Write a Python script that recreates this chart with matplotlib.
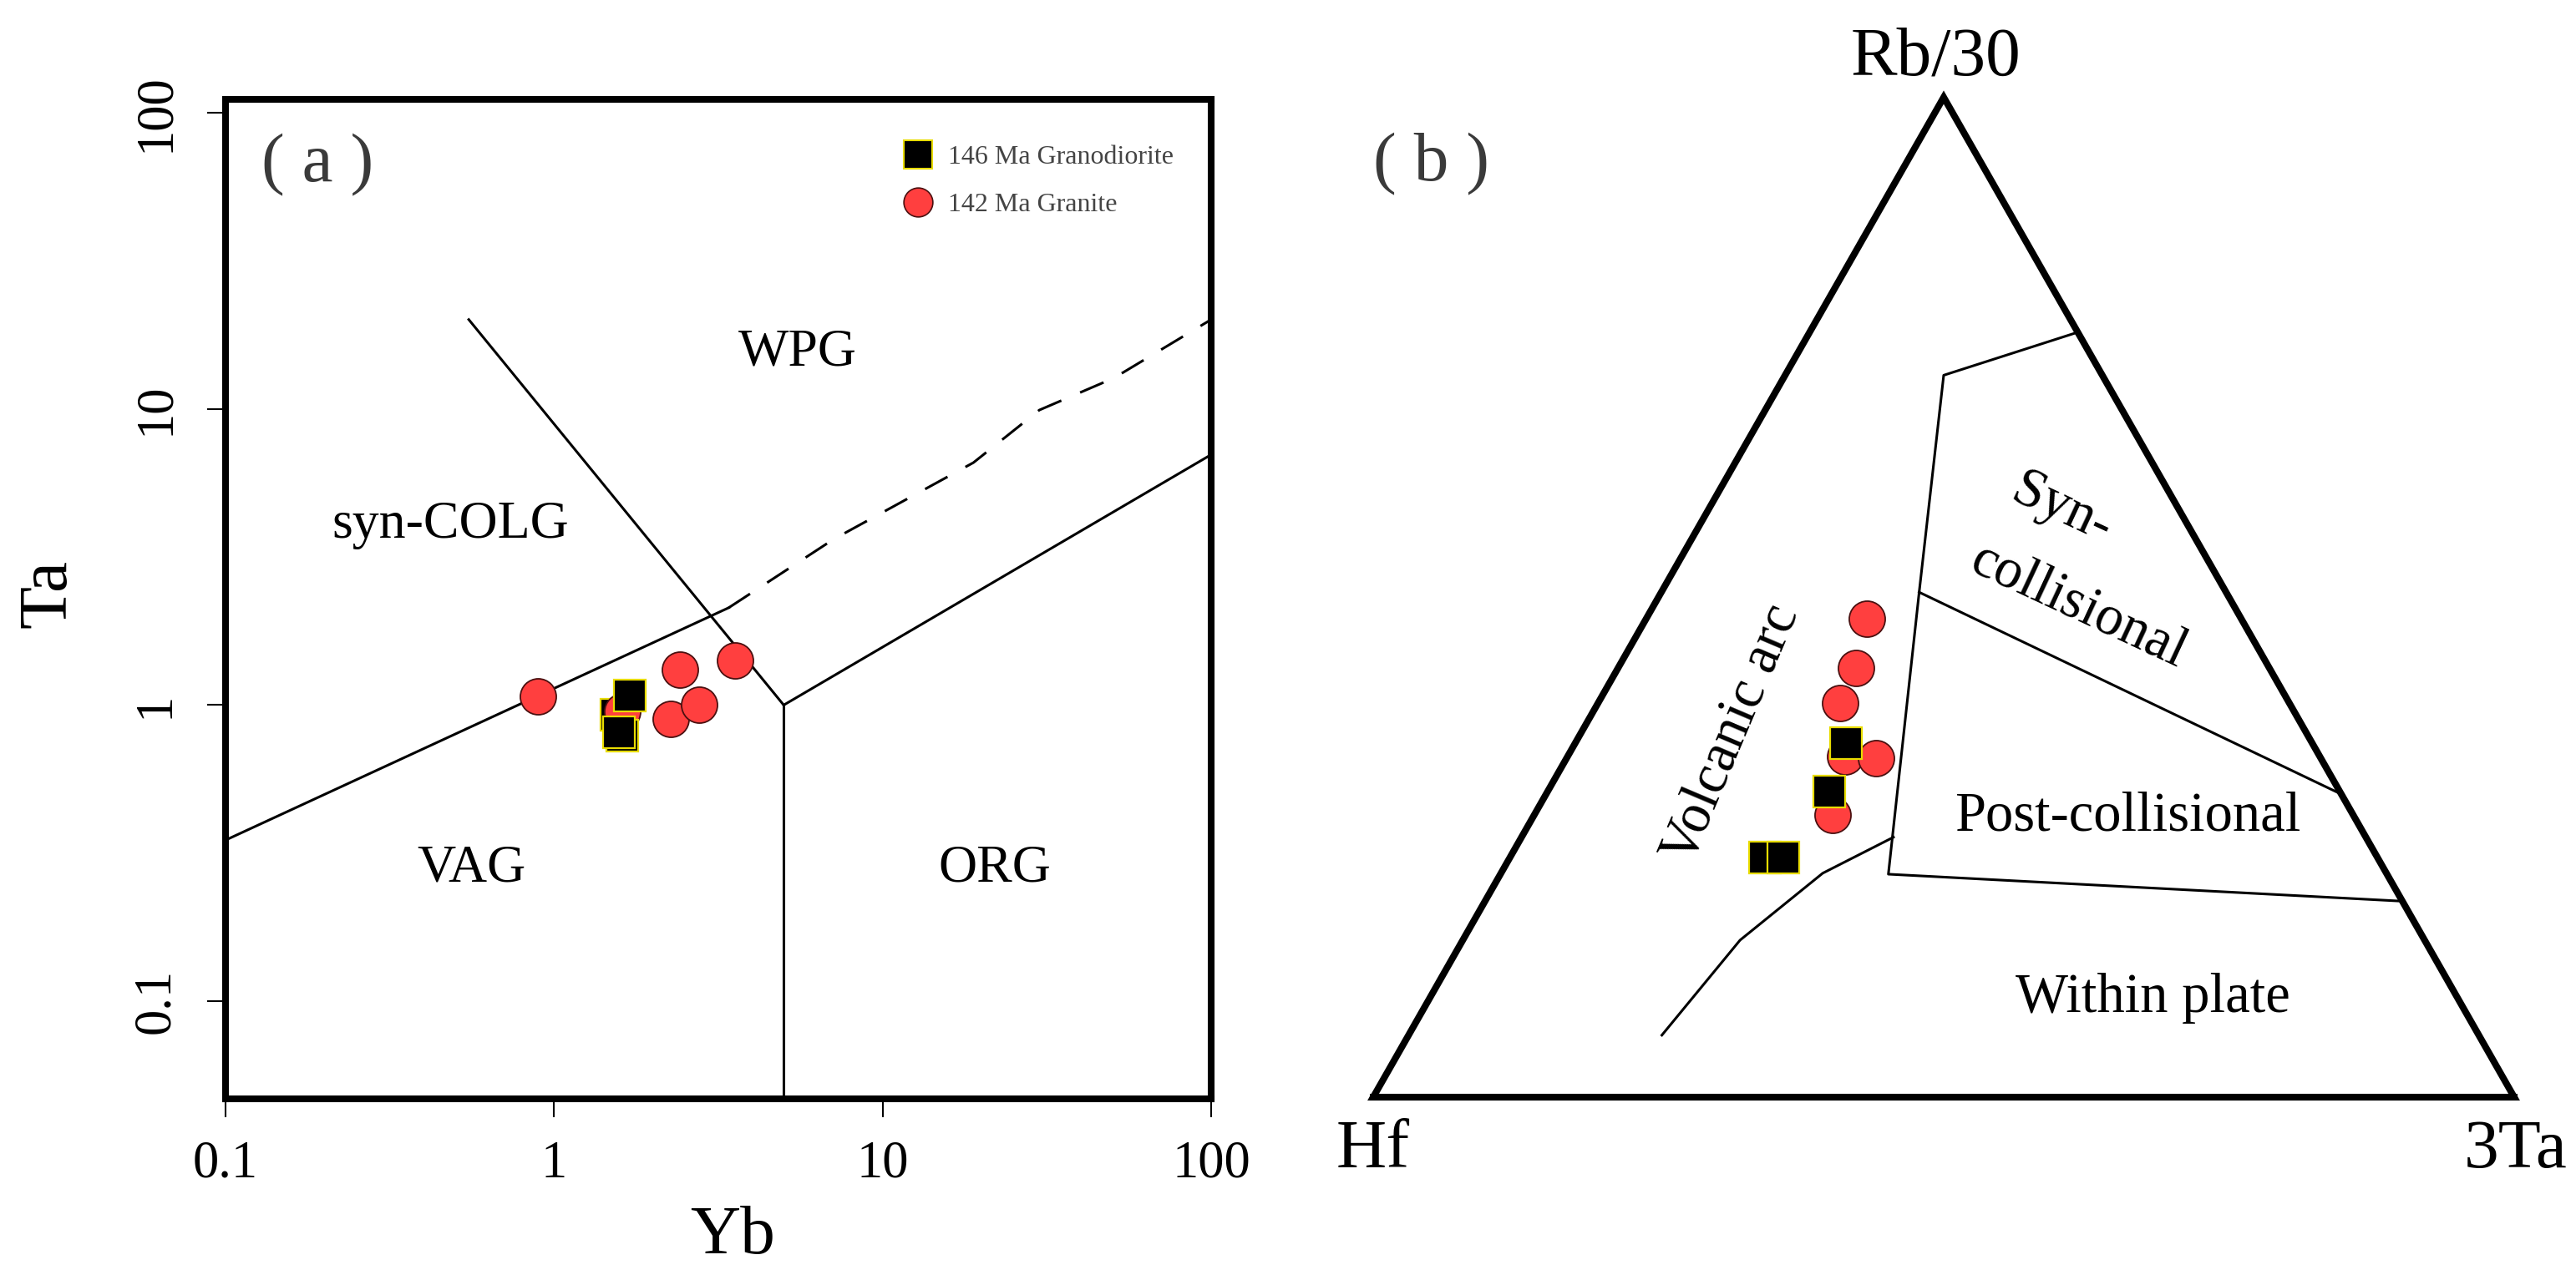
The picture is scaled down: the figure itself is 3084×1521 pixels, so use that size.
import numpy as np
import matplotlib
matplotlib.use("Agg")
import matplotlib.pyplot as plt
from matplotlib.lines import Line2D

plt.rcParams['font.family'] = ['Liberation Serif', 'DejaVu Serif']

# ---------------- (a) Ta vs Yb (Pearce et al. 1984) ----------------
gd_yb = [1.70, 1.61, 1.55, 1.58]          # 146 Ma granodiorite
gd_ta = [1.08, 0.79, 0.93, 0.81]
gr_yb = [0.895, 1.61, 2.42, 3.56, 2.27, 2.76]   # 142 Ma granite
gr_ta = [1.07, 0.953, 1.32, 1.41, 0.898, 1.004]

# field boundaries
vag_yb = [0.1, 3.4]
vag_ta = [0.35, 2.13]
dash_yb = [3.4, 7.1, 18.9, 30, 50.6, 100]
dash_ta = [2.13, 3.63, 6.58, 9.9, 12.7, 20]
diag_yb = [0.55, 5]
diag_ta = [20, 1]
vert_yb = [5, 5]
vert_ta = [1, 0.01]
org_yb = [5, 100]
org_ta = [1, 7]

# ---------------- (b) Hf - Rb/30 - 3Ta (Harris et al. 1986) ----------------
# ternary fractions (Hf, Rb/30, 3Ta)
gd_hf = [0.4085, 0.4476, 0.5368, 0.5209]
gd_rb = [0.3543, 0.3053, 0.2397, 0.2397]
gd_3ta = [0.2372, 0.2471, 0.2235, 0.2394]
gr_hf = [0.3278, 0.3622, 0.3941, 0.4156, 0.3899, 0.4564]
gr_rb = [0.4787, 0.4292, 0.3938, 0.3410, 0.3387, 0.2825]
gr_3ta = [0.1935, 0.2086, 0.2121, 0.2434, 0.2714, 0.2611]

# boundaries as (Rb/30, 3Ta)
syn_rb = [0.765, 0.722, 0.505, 0.223, 0.196]
syn_ta = [0.235, 0.139, 0.226, 0.340, 0.804]
post_rb = [0.505, 0.303]
post_ta = [0.226, 0.697]
arc_rb = [0.26, 0.224, 0.157, 0.062]
arc_ta = [0.326, 0.282, 0.243, 0.222]

W, H = 3084, 1521
fig = plt.figure(figsize=(W / 100, H / 100), dpi=100)


def ftext(x, y, s, **kw):
    fig.text(x / W, 1 - y / H, s, ha='center', va='center', **kw)


red = '#ff3f3f'
red_edge = '#4a1010'
yellow = '#e8dc00'
sq_style = dict(marker='s', ms=27, mfc='k', mec=yellow, mew=1.6, ls='none')
ci_style = dict(marker='o', ms=31, mfc=red, mec=red_edge, mew=1.3, ls='none')

# ---- panel (a) ----
ax = fig.add_axes([270 / W, 1 - 1315.6 / H, 1180 / W, 1197 / H])
ax.set_xscale('log')
ax.set_yscale('log')
ax.set_xlim(0.1, 100)
ax.set_ylim(0.047, 111)

ax.plot(vag_yb, vag_ta, color='k', lw=2.2)
ax.plot(dash_yb, dash_ta, color='k', lw=2.2, ls=(0, (10, 8)))
ax.plot(diag_yb, diag_ta, color='k', lw=2.2)
ax.plot(vert_yb, vert_ta, color='k', lw=2.2)
ax.plot(org_yb, org_ta, color='k', lw=2.2)

# one granodiorite sample sits behind a granite circle
ax.plot(gd_yb[2:3], gd_ta[2:3], **sq_style)
ax.plot(gr_yb, gr_ta, **ci_style)
ax.plot(gd_yb[:2] + gd_yb[3:], gd_ta[:2] + gd_ta[3:], **sq_style)

ax.set_xticks([0.1, 1, 10, 100])
ax.set_xticklabels(['0.1', '1', '10', '100'])
ax.set_yticks([0.1, 1, 10, 100])
ax.set_yticklabels(['0.1', '1', '10', '100'])
ax.minorticks_off()
ax.tick_params(axis='both', direction='out', length=16, width=1.5, labelsize=45)
ax.tick_params(axis='x', pad=20)
ax.tick_params(axis='y', pad=23)
for lab in ax.get_yticklabels():
    lab.set_rotation(90)
    lab.set_va('center')
for sp in ax.spines.values():
    sp.set_linewidth(5.8)

handles = [Line2D([], [], marker='s', ls='none', ms=25, mfc='k', mec=yellow, mew=1.5),
           Line2D([], [], marker='o', ls='none', ms=25, mfc=red, mec=red_edge, mew=1.2)]
ax.legend(handles, ['146 Ma Granodiorite', '142 Ma Granite'], loc='upper left',
          bbox_to_anchor=(0.6915, 0.9537), frameon=False, fontsize=23,
          handlelength=0.8, handletextpad=0.75, labelspacing=0.86,
          borderpad=0, borderaxespad=0, labelcolor='#444444')

ftext(380, 198, '( a )', fontsize=60, color='#3a3a3a')
ftext(955, 423, 'WPG', fontsize=46)
ftext(539, 629, 'syn-COLG', fontsize=46)
ftext(564, 1040, 'VAG', fontsize=46)
ftext(1191, 1040, 'ORG', fontsize=46)
ftext(877, 1481, 'Yb', fontsize=60)
ftext(59, 711, 'Ta', fontsize=60, rotation=90)

# ---- panel (b) ----
h = np.sqrt(3) / 2


def tern(rb, ta):
    rb = np.asarray(rb)
    ta = np.asarray(ta)
    return ta + rb / 2, rb * h


bx = fig.add_axes([1644 / W, 1 - 1314 / H, 1366 / W, 1197.5 / H])
bx.set_xlim(0, 1)
bx.set_ylim(0, h)
bx.axis('off')

bx.plot([0, 1, 0.5, 0, 1], [0, 0, h, 0, 0], color='k', lw=5.8,
        solid_joinstyle='miter', clip_on=False)
for rb, ta in [(syn_rb, syn_ta), (post_rb, post_ta), (arc_rb, arc_ta)]:
    x, y = tern(rb, ta)
    bx.plot(x, y, color='k', lw=2.2, clip_on=False)

x, y = tern(gr_rb, gr_3ta)
bx.plot(x, y, **ci_style)
x, y = tern(gd_rb, gd_3ta)
bx.plot(x, y, **sq_style)

ftext(2317, 70, 'Rb/30', fontsize=60)
ftext(1644, 1378, 'Hf', fontsize=60)
ftext(3012, 1378, '3Ta', fontsize=60)
ftext(1713, 197, '( b )', fontsize=60, color='#3a3a3a')
ftext(2468, 610, 'Syn-', fontsize=48, rotation=-25)
ftext(2488, 726, 'collisional', fontsize=48, rotation=-25)
ftext(2547, 978, 'Post-collisional', fontsize=48)
ftext(2577, 1195, 'Within plate', fontsize=48)
ftext(2073, 879, 'Volcanic arc', fontsize=48, rotation=67)

fig.savefig('out.png', dpi=100)
